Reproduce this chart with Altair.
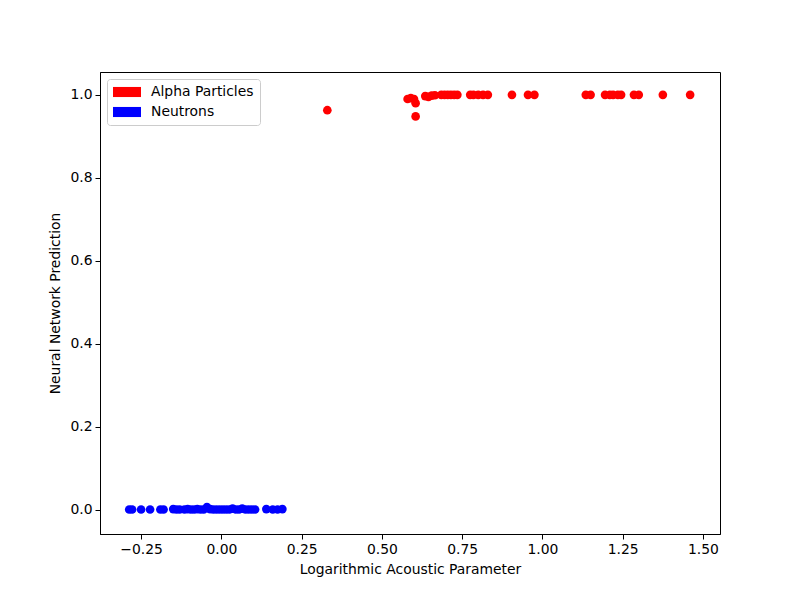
import altair as alt
import pandas as pd

neutron_x = [-0.287, -0.278, -0.25, -0.222, -0.19, -0.18, -0.15, -0.14, -0.13, -0.115,
             -0.105, -0.095, -0.085, -0.075, -0.065, -0.055, -0.045, -0.035, -0.025, -0.015,
             -0.005, 0.005, 0.015, 0.025, 0.035, 0.045, 0.055, 0.065, 0.075, 0.085,
             0.095, 0.105, 0.14, 0.16, 0.175, 0.19]
neutron_y = [0.001, 0.001, 0.001, 0.001, 0.001, 0.001, 0.002, 0.001, 0.001, 0.001,
             0.002, 0.001, 0.001, 0.002, 0.001, 0.001, 0.007, 0.002, 0.001, 0.001,
             0.001, 0.001, 0.001, 0.001, 0.003, 0.001, 0.001, 0.003, 0.001, 0.001,
             0.001, 0.001, 0.002, 0.001, 0.001, 0.002]

alpha_x = [0.33, 0.58, 0.59, 0.60, 0.605, 0.605, 0.635, 0.645, 0.655, 0.665,
           0.685, 0.695, 0.705, 0.715, 0.725, 0.735, 0.775, 0.785, 0.80, 0.815,
           0.83, 0.905, 0.955, 0.975, 1.135, 1.15, 1.195, 1.21, 1.22, 1.235,
           1.245, 1.285, 1.30, 1.375, 1.46]
alpha_y = [0.963, 0.99, 0.992, 0.99, 0.98, 0.948, 0.997, 0.995, 0.998, 0.999,
           1.0, 1.0, 1.0, 1.0, 1.0, 1.0, 1.0, 1.0, 1.0, 1.0,
           1.0, 1.0, 1.0, 1.0, 1.0, 1.0, 1.0, 1.0, 1.0, 1.0,
           1.0, 1.0, 1.0, 1.0, 1.0]

categories = ["Alpha Particles", "Neutrons"]
colors = ["red", "blue"]

x_ticks = [-0.25, 0.0, 0.25, 0.5, 0.75, 1.0, 1.25, 1.5]
y_ticks = [0.0, 0.2, 0.4, 0.6, 0.8, 1.0]

df = pd.concat([
    pd.DataFrame({"x": alpha_x, "y": alpha_y, "kind": categories[0]}),
    pd.DataFrame({"x": neutron_x, "y": neutron_y, "kind": categories[1]}),
])

font = "DejaVu Sans"

chart = alt.Chart(df).mark_circle(size=75, opacity=1).encode(
    x=alt.X("x:Q", title="Logarithmic Acoustic Parameter",
            scale=alt.Scale(domain=[-0.378, 1.553], nice=False, zero=False),
            axis=alt.Axis(values=x_ticks, format=".2f", grid=False, tickSize=5,
                          labelPadding=3, titlePadding=7, labelFlush=False)),
    y=alt.Y("y:Q", title="Neural Network Prediction",
            scale=alt.Scale(domain=[-0.058, 1.055], nice=False, zero=False),
            axis=alt.Axis(values=y_ticks, format=".1f", grid=False, tickSize=5,
                          labelPadding=3, titlePadding=7, labelFlush=False)),
    color=alt.Color("kind:N", title=None,
                    scale=alt.Scale(domain=categories, range=colors),
                    legend=alt.Legend(orient="none", legendX=7, legendY=7,
                                      symbolType="M-2,-0.72L2,-0.72L2,0.72L-2,0.72Z",
                                      symbolSize=196, symbolStrokeWidth=0,
                                      symbolOpacity=1, symbolOffset=7,
                                      labelOffset=17, rowPadding=6, padding=6,
                                      strokeColor="#cccccc", fillColor="white",
                                      cornerRadius=3, labelFontSize=13.9,
                                      labelFont=font, labelColor="black")),
).properties(
    width=620, height=462,
    autosize=alt.AutoSizeParams(type="none"),
    padding={"left": 92, "top": 64, "right": 72, "bottom": 58},
).configure_view(
    stroke="black", strokeWidth=1
).configure_axis(
    labelFont=font, titleFont=font, labelFontSize=13.9, titleFontSize=13.9,
    labelColor="black", titleColor="black", titleFontWeight="normal",
    domainColor="black", tickColor="black", domain=True
)

chart.save("out.html", embed_options={"renderer": "svg", "actions": False})
